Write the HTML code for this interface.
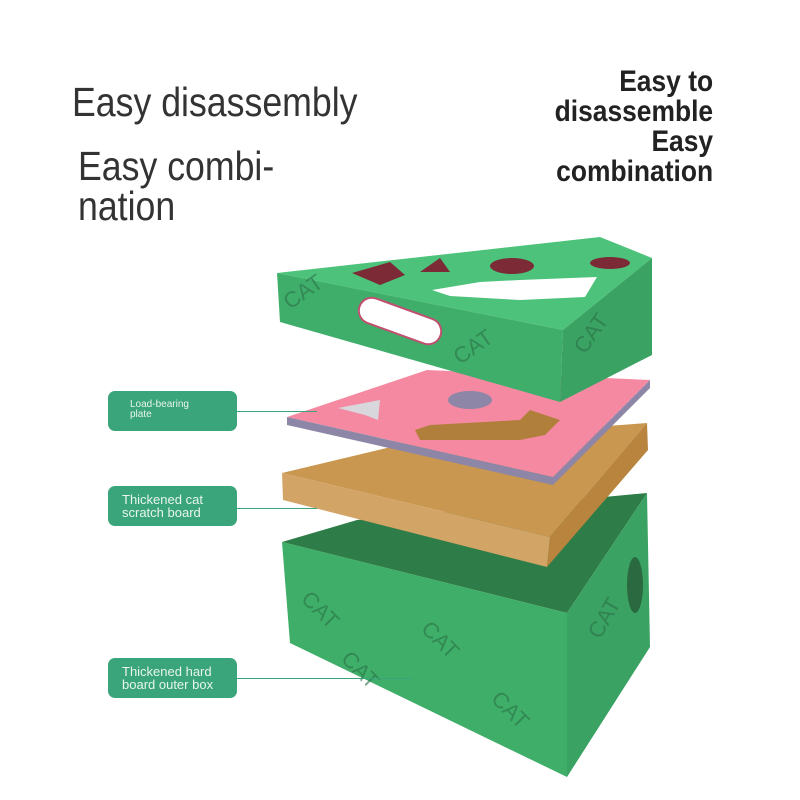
<!DOCTYPE html>
<html><head><meta charset="utf-8"><style>
html,body{margin:0;padding:0;background:#fff;}
body{width:800px;height:800px;position:relative;overflow:hidden;font-family:"Liberation Sans",sans-serif;}
.t{position:absolute;color:#333;font-size:41px;line-height:1;transform:scaleX(0.87);transform-origin:0 0;white-space:nowrap;}
.r{position:absolute;right:87px;text-align:right;font-weight:bold;font-size:30px;color:#222;line-height:30px;top:67px;transform:scaleX(0.88);transform-origin:100% 0;white-space:nowrap;}
.lab{position:absolute;left:108px;width:129px;height:40px;background:#3aa47a;border-radius:7px;color:#e8f5ee;font-size:13px;line-height:13px;box-sizing:border-box;padding:7px 0 0 14px;}
.ln{position:absolute;height:1px;background:#3aa47a;left:237px;}
</style></head><body>
<div class="t" style="left:72px;top:82px">Easy disassembly</div>
<div class="t" style="left:78px;top:146px">Easy combi-</div>
<div class="t" style="left:78px;top:186px">nation</div>
<div class="r">Easy to<br>disassemble<br>Easy<br>combination</div>
<svg width="800" height="800" style="position:absolute;left:0;top:0">
<!-- bottom box -->
<polygon points="282,542 357,520 647,493 567,613" fill="#2e7c48"/>
<polygon points="282,542 567,613 567,777 290,643" fill="#3fae68"/>
<polygon points="567,613 647,493 650,647 567,777" fill="#3aa262"/>
<ellipse cx="635" cy="585" rx="8" ry="28" fill="#2b6a40"/>
<!-- cardboard -->
<polygon points="282,473 420,440 647,423 550,537" fill="#c9974f"/>
<polygon points="282,473 550,537 547,567 283,500" fill="#d2a466"/>
<polygon points="550,537 647,423 648,450 547,567" fill="#b8843e"/>
<!-- pink plate -->
<polygon points="287,417 427,370 650,380 553,477" fill="#f589a2"/>
<polygon points="287,417 553,477 553,485 287,425" fill="#8d86a6"/>
<polygon points="553,477 650,380 650,388 553,485" fill="#8d86a6"/>
<polygon points="415,430 430,425 520,420 530,410 560,420 545,435 520,440 420,440" fill="#b07f3c"/>
<polygon points="338,408 380,400 378,420 365,415" fill="#d8d8dc"/>
<ellipse cx="470" cy="400" rx="22" ry="9" fill="#8d86a6"/>
<!-- lid -->
<polygon points="277,273 600,237 652,258 563,330" fill="#4cc27a"/>
<polygon points="277,273 563,330 560,402 280,322" fill="#3fae6a"/>
<polygon points="563,330 652,258 652,355 560,402" fill="#3aa262"/>
<polygon points="352,273 390,262 405,275 380,285" fill="#7c2a36"/>
<polygon points="420,272 440,258 450,272" fill="#7c2a36"/>
<ellipse cx="512" cy="266" rx="22" ry="8" fill="#7c2a36"/>
<ellipse cx="610" cy="263" rx="20" ry="6" fill="#7c2a36"/>
<polygon points="432,290 480,282 520,280 597,277 585,297 520,300 450,296" fill="#ffffff"/>
<rect x="357" y="308" width="86" height="26" rx="13" fill="#ffffff" stroke="#c05070" stroke-width="2" transform="rotate(20 400 321)"/>
<g font-family="Liberation Sans,sans-serif" font-size="22" fill="#2a7048" opacity="0.6">
<text x="290" y="310" transform="rotate(-35 290 310)">CAT</text>
<text x="460" y="365" transform="rotate(-35 460 365)">CAT</text>
<text x="585" y="355" transform="rotate(-55 585 355)">CAT</text>
<text x="300" y="600" transform="rotate(45 300 600)">CAT</text>
<text x="420" y="630" transform="rotate(45 420 630)">CAT</text>
<text x="490" y="700" transform="rotate(45 490 700)">CAT</text>
<text x="340" y="660" transform="rotate(45 340 660)">CAT</text>
<text x="600" y="640" transform="rotate(-60 600 640)">CAT</text>
</g>
</svg>
<div class="lab" style="top:391px;font-size:10px;line-height:10px;padding:9px 0 0 22px">Load-bearing<br>plate</div>
<div class="ln" style="top:411px;width:80px"></div>
<div class="lab" style="top:486px">Thickened cat<br>scratch board</div>
<div class="ln" style="top:508px;width:80px"></div>
<div class="lab" style="top:658px">Thickened hard<br>board outer box</div>
<div class="ln" style="top:678px;width:175px"></div>
</body></html>
